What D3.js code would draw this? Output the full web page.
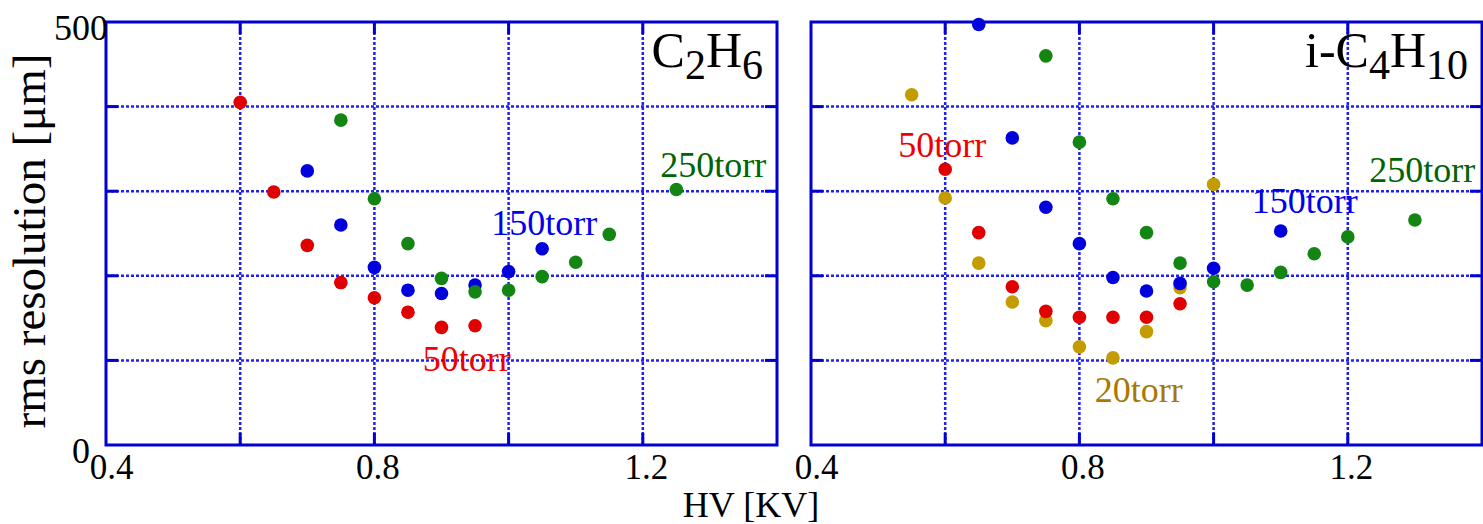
<!DOCTYPE html>
<html>
<head>
<meta charset="utf-8">
<script src="https://cdn.jsdelivr.net/npm/d3@7"></script>
<style>
  body { margin: 0; background: #fff; }
  svg { display: block; font-family: "Liberation Serif", "DejaVu Serif", serif; }
</style>
</head>
<body>
<div id="chart"></div>
<script>
// C2H6 panel
let c2h6_x50 = [0.6, 0.65, 0.7, 0.75, 0.8, 0.85, 0.9, 0.95];
let c2h6_y50 = [405, 299, 236, 192, 174, 157, 139, 141];
let c2h6_x150 = [0.7, 0.75, 0.8, 0.85, 0.9, 0.95, 1.0, 1.05];
let c2h6_y150 = [324, 260, 210, 183, 179, 189, 205, 232];
let c2h6_x250 = [0.75, 0.8, 0.85, 0.9, 0.95, 1.0, 1.05, 1.1, 1.15, 1.25];
let c2h6_y250 = [384, 291, 238, 197, 181, 183, 199, 216, 249, 302];

// i-C4H10 panel
let ic4_x20 = [0.55, 0.6, 0.65, 0.7, 0.75, 0.8, 0.85, 0.9, 0.95, 1.0];
let ic4_y20 = [414, 292, 215, 169, 147, 116, 103, 134, 186, 308];
let ic4_x50 = [0.6, 0.65, 0.7, 0.75, 0.8, 0.85, 0.9, 0.95];
let ic4_y50 = [326, 251, 187, 158, 151, 151, 151, 167];
let ic4_x150 = [0.65, 0.7, 0.75, 0.8, 0.85, 0.9, 0.95, 1.0, 1.1];
let ic4_y150 = [497, 363, 281, 238, 198, 182, 191, 209, 253];
let ic4_x250 = [0.75, 0.8, 0.85, 0.9, 0.95, 1.0, 1.05, 1.1, 1.15, 1.2, 1.3];
let ic4_y250 = [460, 358, 291, 251, 215, 193, 189, 204, 226, 246, 266];

let xTickLabels = [0.4, 0.8, 1.2];
let xGrid = [0.6, 0.8, 1.0, 1.2];
let yGrid = [100, 200, 300, 400];

const W = 1483, H = 524;
const plotTop = 22, plotBottom = 445;
const frameColor = '#0000d0';
const gridColor = '#2020f0';

let svg = d3.select('#chart').append('svg').attr('width', W).attr('height', H);

let y = d3.scaleLinear().domain([0, 500]).range([plotBottom, plotTop]);

function zip(xs, ys) { return xs.map((v, i) => ({x: v, y: ys[i]})); }

function panel(left, right, series, labels, title) {
    let x = d3.scaleLinear().domain([0.4, 1.4]).range([left, right]);
    let g = svg.append('g');

    // dotted grid
    g.selectAll('.vg').data(xGrid).enter().append('line')
        .attr('x1', d => x(d)).attr('x2', d => x(d))
        .attr('y1', plotTop).attr('y2', plotBottom)
        .attr('stroke', gridColor).attr('stroke-width', 2.5).attr('stroke-dasharray', '3,2');
    g.selectAll('.hg').data(yGrid).enter().append('line')
        .attr('x1', left).attr('x2', right)
        .attr('y1', d => y(d)).attr('y2', d => y(d))
        .attr('stroke', gridColor).attr('stroke-width', 2.5).attr('stroke-dasharray', '3,2');

    // inner ticks on four sides
    let tk = 12;
    let ticks = g.append('g').attr('stroke', frameColor).attr('stroke-width', 3);
    xGrid.forEach(d => {
        ticks.append('line').attr('x1', x(d)).attr('x2', x(d)).attr('y1', plotBottom).attr('y2', plotBottom - tk);
        ticks.append('line').attr('x1', x(d)).attr('x2', x(d)).attr('y1', plotTop).attr('y2', plotTop + tk);
    });
    yGrid.forEach(d => {
        ticks.append('line').attr('x1', left).attr('x2', left + tk).attr('y1', y(d)).attr('y2', y(d));
        ticks.append('line').attr('x1', right).attr('x2', right - tk).attr('y1', y(d)).attr('y2', y(d));
    });

    g.append('rect').attr('x', left).attr('y', plotTop)
        .attr('width', right - left).attr('height', plotBottom - plotTop)
        .attr('fill', 'none').attr('stroke', frameColor).attr('stroke-width', 3);

    // x axis labels
    let xa = g.append('g').attr('transform', `translate(0,${plotBottom})`)
        .call(d3.axisBottom(x).tickValues(xTickLabels).tickSize(0).tickFormat(d3.format('.1f')));
    xa.select('.domain').remove();
    xa.selectAll('text').attr('font-size', 35).attr('fill', '#000')
        .attr('font-family', '"Liberation Serif", serif').attr('dy', 0).attr('y', 34)
        .attr('dx', d => d === 0.4 ? 5 : 3);

    // points
    series.forEach(s => {
        g.append('g').selectAll('circle').data(zip(s.xs, s.ys)).enter().append('circle')
            .attr('cx', d => x(d.x)).attr('cy', d => y(d.y)).attr('r', 6.8)
            .attr('fill', s.color);
    });

    // torr labels
    labels.forEach(l => {
        g.append('text').attr('x', x(l.x)).attr('y', y(l.y))
            .attr('font-size', 36).attr('fill', l.color).text(l.text);
    });

    // title
    let t = g.append('text').attr('x', right - 14).attr('y', 67)
        .attr('text-anchor', 'end').attr('font-size', 50).attr('fill', '#000');
    title.forEach(p => {
        let ts = t.append('tspan').text(p.t);
        if (p.sub) ts.attr('font-size', 42).attr('dy', 12);
        else if (p.after) ts.attr('dy', -12);
    });
}

const red = '#e00000', blue = '#0000dd', green = '#138513', gold = '#c29c00';

panel(106, 777,
    [{xs: c2h6_x50, ys: c2h6_y50, color: red},
     {xs: c2h6_x150, ys: c2h6_y150, color: blue},
     {xs: c2h6_x250, ys: c2h6_y250, color: green}],
    [{x: 0.872, y: 87, text: '50torr', color: '#ee0000'},
     {x: 0.974, y: 248, text: '150torr', color: '#0000ee'},
     {x: 1.226, y: 317, text: '250torr', color: '#006400'}],
    [{t: 'C'}, {t: '2', sub: true}, {t: 'H', after: true}, {t: '6', sub: true}]);

panel(811, 1482,
    [{xs: ic4_x20, ys: ic4_y20, color: gold},
     {xs: ic4_x50, ys: ic4_y50, color: red},
     {xs: ic4_x150, ys: ic4_y150, color: blue},
     {xs: ic4_x250, ys: ic4_y250, color: green}],
    [{x: 0.530, y: 340, text: '50torr', color: '#ee0000'},
     {x: 0.823, y: 51, text: '20torr', color: '#a87800'},
     {x: 1.057, y: 274, text: '150torr', color: '#0000ee'},
     {x: 1.232, y: 311, text: '250torr', color: '#006400'}],
    [{t: 'i-C'}, {t: '4', sub: true}, {t: 'H', after: true}, {t: '10', sub: true}]);

// y axis labels (left panel only)
let ya = svg.append('g').attr('transform', 'translate(106,0)')
    .call(d3.axisLeft(y).tickValues([0, 500]).tickSize(0));
ya.select('.domain').remove();
ya.selectAll('text').attr('font-size', 36).attr('fill', '#000')
    .attr('font-family', '"Liberation Serif", serif')
    .attr('x', d => d === 0 ? -16 : 2).attr('dy', 17);

svg.append('text').attr('transform', 'translate(45,241) rotate(-90)')
    .attr('text-anchor', 'middle').attr('font-size', 47).attr('fill', '#000')
    .text('rms resolution [μm]');

svg.append('text').attr('x', 751).attr('y', 517)
    .attr('text-anchor', 'middle').attr('font-size', 36).attr('fill', '#000')
    .text('HV [KV]');
</script>
</body>
</html>
